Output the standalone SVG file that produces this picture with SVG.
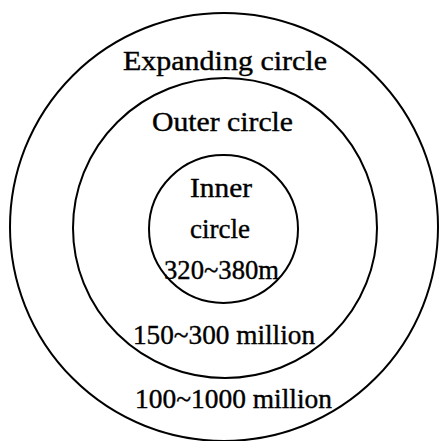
<svg xmlns="http://www.w3.org/2000/svg" width="440" height="441" viewBox="0 0 440 441">
<style>
.ring{fill:none;stroke:#000;stroke-width:2}
.lbl{font-family:"Liberation Serif","DejaVu Serif",serif;font-size:28px;fill:#000;stroke:#000;stroke-width:0.4}
</style>
<rect width="440" height="441" fill="#fff"/>
<g id="expanding-circle">
<ellipse class="ring" cx="224" cy="227" rx="214" ry="214"/>
<text class="lbl" x="123" y="70" textLength="204" lengthAdjust="spacingAndGlyphs">Expanding circle</text>
<text class="lbl" x="135" y="408" textLength="197" lengthAdjust="spacingAndGlyphs">100~1000 million</text>
</g>
<g id="outer-circle">
<ellipse class="ring" cx="225" cy="228" rx="152" ry="150"/>
<text class="lbl" x="152" y="131" textLength="141" lengthAdjust="spacingAndGlyphs">Outer circle</text>
<text class="lbl" x="133" y="344" textLength="182" lengthAdjust="spacingAndGlyphs">150~300 million</text>
</g>
<g id="inner-circle">
<ellipse class="ring" cx="223.5" cy="229" rx="74.5" ry="74"/>
<text class="lbl" x="190" y="197" textLength="62" lengthAdjust="spacingAndGlyphs">Inner</text>
<text class="lbl" x="190" y="238" textLength="60" lengthAdjust="spacingAndGlyphs">circle</text>
<text class="lbl" x="164" y="279" textLength="115" lengthAdjust="spacingAndGlyphs">320~380m</text>
</g>
</svg>
